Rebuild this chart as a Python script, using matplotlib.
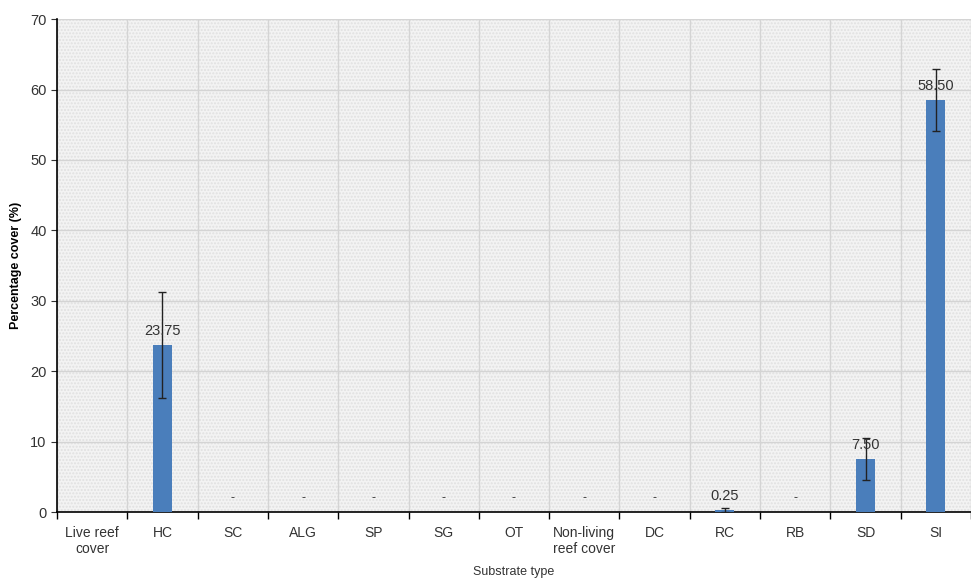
import numpy as np
import matplotlib.pyplot as plt
from matplotlib.patches import Rectangle

# substrate categories and mean cover (%) with error (SD)
categories = ["Live reef\ncover", "HC", "SC", "ALG", "SP", "SG", "OT",
              "Non-living\nreef cover", "DC", "RC", "RB", "SD", "SI"]
cover = [0, 23.75, 0, 0, 0, 0, 0, 0, 0, 0.25, 0, 7.50, 58.50]
errors = [0, 7.5, 0, 0, 0, 0, 0, 0, 0, 0.3, 0, 3.0, 4.4]
labels = ["", "23.75", "-", "-", "-", "-", "-", "-", "-", "0.25", "-", "7.50", "58.50"]

plt.rcParams['font.family'] = ['Liberation Sans', 'DejaVu Sans']

fig = plt.figure(figsize=(9.71, 5.79), dpi=100)
ax = fig.add_axes([0.0587, 0.1157, 0.9413, 0.8513])

x = np.arange(len(categories))

# textured light grey plot area
ax.set_facecolor('#f3f3f3')
ax.add_patch(Rectangle((0, 0), 1, 1, transform=ax.transAxes, facecolor='none',
                       edgecolor='#e0e0e0', hatch='.....', linewidth=0, zorder=0))

ax.bar(x, cover, width=0.27, color='#4a7ebb', zorder=3)
has_err = [i for i, e in enumerate(errors) if e > 0]
ax.errorbar(x[has_err], [cover[i] for i in has_err], yerr=[errors[i] for i in has_err],
            fmt='none', ecolor='#222222', elinewidth=1, capsize=3, capthick=1, zorder=4)

for i, lab in enumerate(labels):
    if lab == "-":
        ax.text(x[i], 2.0, "-", ha='center', va='center', fontsize=9, color='#333333')
    elif lab:
        ax.text(x[i], cover[i] + 1.0, lab, ha='center', va='bottom', fontsize=10.5,
                color='#333333', zorder=5)

ax.set_xlim(-0.5, len(categories) - 0.5)
ax.set_ylim(0, 70)
ax.set_yticks(range(0, 71, 10))
ax.set_xticks(x)
ax.set_xticklabels(categories, fontsize=10, color='#333333')
ax.set_xticks(np.arange(-0.5, len(categories)), minor=True)
ax.tick_params(axis='x', which='major', length=0, pad=10)
ax.tick_params(axis='x', which='minor', length=5, width=1, direction='out')
ax.tick_params(axis='y', labelsize=10.5, length=4, colors='#333333')

ax.grid(True, which='major', axis='y', color='#d4d4d4', linewidth=1, zorder=1)
ax.grid(True, which='minor', axis='x', color='#d4d4d4', linewidth=1, zorder=1)
ax.set_axisbelow(True)

for side in ['top', 'right']:
    ax.spines[side].set_visible(False)
ax.spines['left'].set_linewidth(1.2)
ax.spines['bottom'].set_linewidth(1.2)

ax.set_ylabel("Percentage cover (%)", fontsize=9, fontweight='bold', labelpad=6)
ax.set_xlabel("Substrate type", fontsize=9, color='#333333', labelpad=7)

plt.savefig("out.png", dpi=100)
